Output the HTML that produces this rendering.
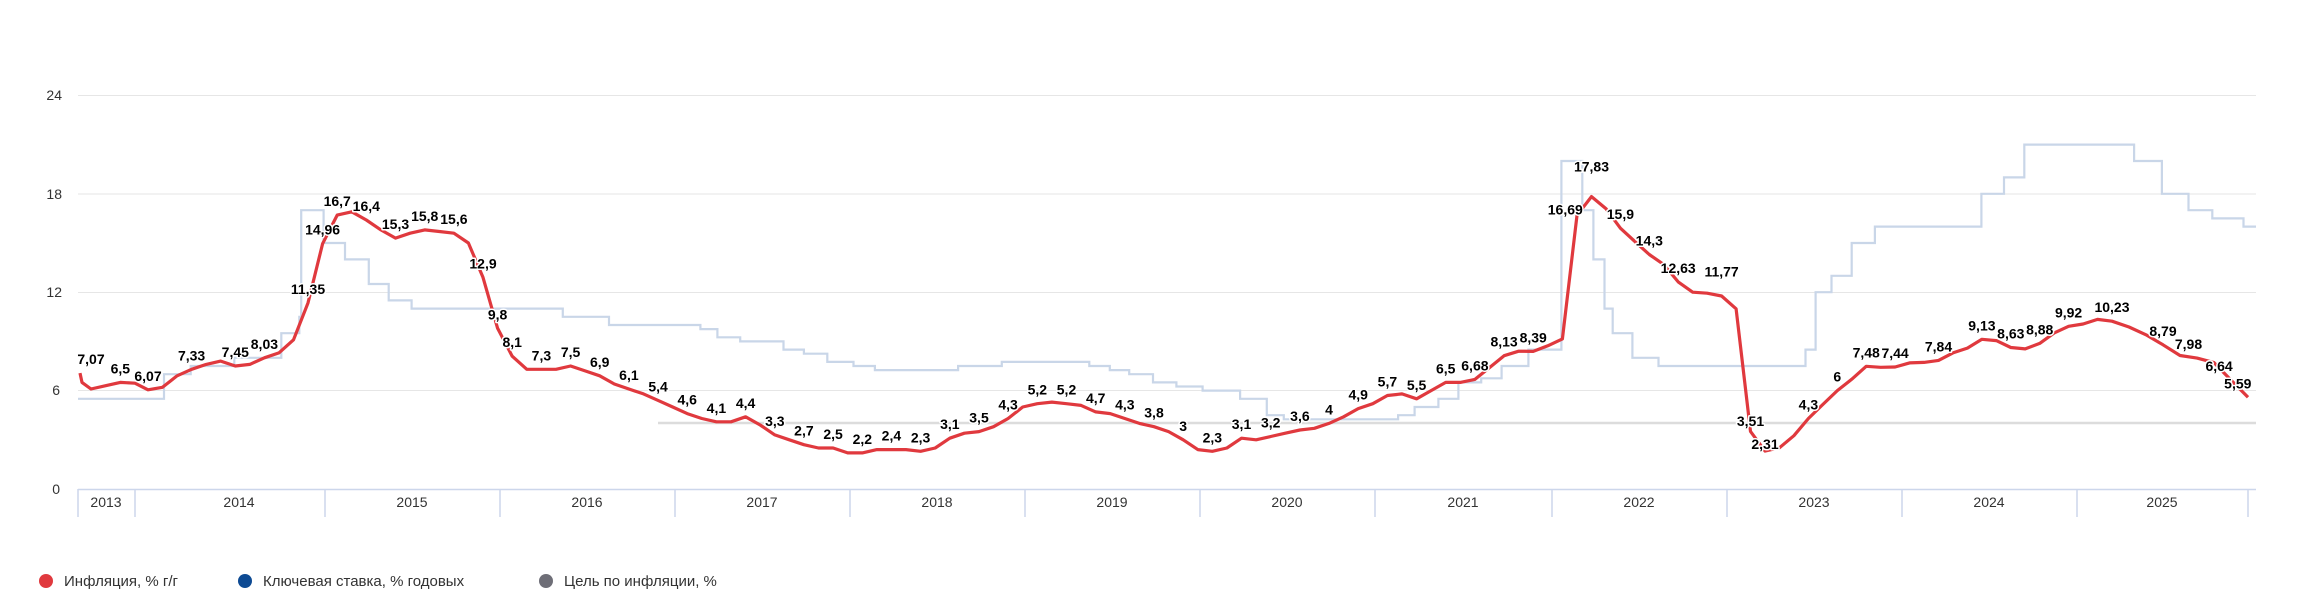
<!DOCTYPE html>
<html><head><meta charset="utf-8">
<style>
html,body{margin:0;padding:0;background:#fff;width:2305px;height:611px;overflow:hidden}
svg{display:block}
.yl{font:14px "Liberation Sans",sans-serif;fill:#333;text-anchor:end}
.xl{font:14px "Liberation Sans",sans-serif;fill:#333;text-anchor:middle}
.dl{font:bold 14px "Liberation Sans",sans-serif;fill:#000;text-anchor:middle;stroke:#fff;stroke-width:3px;paint-order:stroke;stroke-linejoin:round}
.lg{font:15px "Liberation Sans","DejaVu Sans",sans-serif;fill:#333}
</style></head><body>
<svg id="s" width="2305" height="611" xmlns="http://www.w3.org/2000/svg">
<g stroke="#e6e6e6" stroke-width="1">
<line x1="78" x2="2256" y1="95.5" y2="95.5"/>
<line x1="78" x2="2256" y1="194" y2="194"/>
<line x1="78" x2="2256" y1="292.5" y2="292.5"/>
<line x1="78" x2="2256" y1="390.5" y2="390.5"/>
</g>
<text class="yl" x="62" y="100">24</text>
<text class="yl" x="62" y="199">18</text>
<text class="yl" x="62" y="297">12</text>
<text class="yl" x="60" y="395">6</text>
<text class="yl" x="60" y="494">0</text>
<line x1="658" x2="2256" y1="423" y2="423" stroke="#dcdcdc" stroke-width="2.5"/>
<path id="kr" fill="none" stroke="#c9d6e8" stroke-width="2.2"/>
<path id="inf" fill="none" stroke="#e0393e" stroke-width="3.2" stroke-linejoin="round"/>
<line x1="78" x2="2256" y1="489.5" y2="489.5" stroke="#ccd6eb" stroke-width="1.5"/>
<g id="ticks" stroke="#ccd6eb" stroke-width="1.5"></g>
<g id="years">
<text class="xl" x="106" y="507">2013</text>
<text class="xl" x="239" y="507">2014</text>
<text class="xl" x="412" y="507">2015</text>
<text class="xl" x="587" y="507">2016</text>
<text class="xl" x="762" y="507">2017</text>
<text class="xl" x="937" y="507">2018</text>
<text class="xl" x="1112" y="507">2019</text>
<text class="xl" x="1287" y="507">2020</text>
<text class="xl" x="1463" y="507">2021</text>
<text class="xl" x="1639" y="507">2022</text>
<text class="xl" x="1814" y="507">2023</text>
<text class="xl" x="1989" y="507">2024</text>
<text class="xl" x="2162" y="507">2025</text>
</g>
<g id="labels">
<text class="dl" data-m="-9" data-v="7.07">7,07</text>
<text class="dl" data-m="-1" data-v="6.5">6,5</text>
<text class="dl" data-m="1" data-v="6.05">6,07</text>
<text class="dl" data-m="4" data-v="7.3">7,33</text>
<text class="dl" data-m="7" data-v="7.5">7,45</text>
<text class="dl" data-m="9" data-v="8.0">8,03</text>
<text class="dl" data-m="12" data-v="11.35">11,35</text>
<text class="dl" data-m="13" data-v="14.96">14,96</text>
<text class="dl" data-m="14" data-v="16.7">16,7</text>
<text class="dl" data-m="16" data-v="16.4">16,4</text>
<text class="dl" data-m="18" data-v="15.3">15,3</text>
<text class="dl" data-m="20" data-v="15.8">15,8</text>
<text class="dl" data-m="22" data-v="15.6">15,6</text>
<text class="dl" data-m="24" data-v="12.9">12,9</text>
<text class="dl" data-m="25" data-v="9.8">9,8</text>
<text class="dl" data-m="26" data-v="8.1">8,1</text>
<text class="dl" data-m="28" data-v="7.3">7,3</text>
<text class="dl" data-m="30" data-v="7.5">7,5</text>
<text class="dl" data-m="32" data-v="6.9">6,9</text>
<text class="dl" data-m="34" data-v="6.1">6,1</text>
<text class="dl" data-m="36" data-v="5.4">5,4</text>
<text class="dl" data-m="38" data-v="4.6">4,6</text>
<text class="dl" data-m="40" data-v="4.1">4,1</text>
<text class="dl" data-m="42" data-v="4.4">4,4</text>
<text class="dl" data-m="44" data-v="3.3">3,3</text>
<text class="dl" data-m="46" data-v="2.7">2,7</text>
<text class="dl" data-m="48" data-v="2.5">2,5</text>
<text class="dl" data-m="50" data-v="2.2">2,2</text>
<text class="dl" data-m="52" data-v="2.4">2,4</text>
<text class="dl" data-m="54" data-v="2.3">2,3</text>
<text class="dl" data-m="56" data-v="3.1">3,1</text>
<text class="dl" data-m="58" data-v="3.5">3,5</text>
<text class="dl" data-m="60" data-v="4.3">4,3</text>
<text class="dl" data-m="62" data-v="5.2">5,2</text>
<text class="dl" data-m="64" data-v="5.2">5,2</text>
<text class="dl" data-m="66" data-v="4.7">4,7</text>
<text class="dl" data-m="68" data-v="4.3">4,3</text>
<text class="dl" data-m="70" data-v="3.8">3,8</text>
<text class="dl" data-m="72" data-v="3.0">3</text>
<text class="dl" data-m="74" data-v="2.3">2,3</text>
<text class="dl" data-m="76" data-v="3.1">3,1</text>
<text class="dl" data-m="78" data-v="3.2">3,2</text>
<text class="dl" data-m="80" data-v="3.6">3,6</text>
<text class="dl" data-m="82" data-v="4.0">4</text>
<text class="dl" data-m="84" data-v="4.9">4,9</text>
<text class="dl" data-m="86" data-v="5.7">5,7</text>
<text class="dl" data-m="88" data-v="5.5">5,5</text>
<text class="dl" data-m="90" data-v="6.5">6,5</text>
<text class="dl" data-m="92" data-v="6.68">6,68</text>
<text class="dl" data-m="94" data-v="8.13">8,13</text>
<text class="dl" data-m="96" data-v="8.39">8,39</text>
<text class="dl" data-m="98.2" data-v="16.2">16,69</text>
<text class="dl" data-m="100" data-v="18.8">17,83</text>
<text class="dl" data-m="102" data-v="15.9">15,9</text>
<text class="dl" data-m="104" data-v="14.3">14,3</text>
<text class="dl" data-m="106" data-v="12.63">12,63</text>
<text class="dl" data-m="109" data-v="12.4">11,77</text>
<text class="dl" data-m="111" data-v="3.3">3,51</text>
<text class="dl" data-m="112" data-v="1.9">2,31</text>
<text class="dl" data-m="115" data-v="4.3">4,3</text>
<text class="dl" data-m="117" data-v="6.0">6</text>
<text class="dl" data-m="119" data-v="7.48">7,48</text>
<text class="dl" data-m="121" data-v="7.44">7,44</text>
<text class="dl" data-m="124" data-v="7.84">7,84</text>
<text class="dl" data-m="127" data-v="9.13">9,13</text>
<text class="dl" data-m="129" data-v="8.63">8,63</text>
<text class="dl" data-m="131" data-v="8.88">8,88</text>
<text class="dl" data-m="133" data-v="9.92">9,92</text>
<text class="dl" data-m="136" data-v="10.23">10,23</text>
<text class="dl" data-m="139" data-v="8.79">8,79</text>
<text class="dl" data-m="140.5" data-v="7.98">7,98</text>
<text class="dl" data-m="142.3" data-v="6.64">6,64</text>
<text class="dl" data-m="143.4" data-v="5.59">5,59</text>
</g>
<circle cx="46" cy="581" r="7" fill="#e0393e"/>
<text class="lg" x="64" y="586">Инфляция, % г/г</text>
<circle cx="245" cy="581" r="7" fill="#0d4a93"/>
<text class="lg" x="263" y="586">Ключевая ставка, % годовых</text>
<circle cx="546" cy="581" r="7" fill="#6e6e77"/>
<text class="lg" x="564" y="586">Цель по инфляции, %</text>
</svg>
<script>
var A=[[-3,91],[0,135],[1,148],[12,308],[99,1577],[136,2112],[144,2248]];
function X(m){
 if(m<=A[0][0]) return A[0][1]+(m-A[0][0])*14.3;
 for(var i=1;i<A.length;i++){if(m<=A[i][0]){var a=A[i-1],b=A[i];return a[1]+(m-a[0])*(b[1]-a[1])/(b[0]-a[0]);}}
 var a=A[A.length-2],b=A[A.length-1];return b[1]+(m-b[0])*(b[1]-a[1])/(b[0]-a[0]);
}
function Y(v){return 489-v*16.4;}
var inf=[
[6.1,6.3,6.5,6.45],
[6.05,6.2,6.9,7.3,7.6,7.8,7.5,7.6,8.0,8.3,9.1,11.35],
[14.96,16.7,16.9,16.4,15.8,15.3,15.6,15.8,15.7,15.6,15.0,12.9],
[9.8,8.1,7.3,7.3,7.3,7.5,7.2,6.9,6.4,6.1,5.8,5.4],
[5.0,4.6,4.3,4.1,4.1,4.4,3.9,3.3,3.0,2.7,2.5,2.5],
[2.2,2.2,2.4,2.4,2.4,2.3,2.5,3.1,3.4,3.5,3.8,4.3],
[5.0,5.2,5.3,5.2,5.1,4.7,4.6,4.3,4.0,3.8,3.5,3.0],
[2.4,2.3,2.5,3.1,3.0,3.2,3.4,3.6,3.7,4.0,4.4,4.9],
[5.2,5.7,5.8,5.5,6.0,6.5,6.5,6.68,7.4,8.13,8.4,8.39],
[8.73,9.15,16.69,17.83,17.1,15.9,15.1,14.3,13.68,12.63,12.0,11.94],
[11.77,10.99,3.51,2.31,2.51,3.25,4.3,5.15,6.0,6.69,7.48,7.42],
[7.44,7.69,7.72,7.84,8.3,8.59,9.13,9.05,8.63,8.54,8.88,9.52],
[9.92,10.06,10.34,10.23,9.88,9.40,8.79,8.14,7.98,7.71,6.64,5.59]];
var pts=[[80,Y(7.07)],[82,Y(6.5)]];
inf.forEach(function(arr,yi){arr.forEach(function(v,i){var m=yi==0?(-3+i):((yi-1)*12+i+1);pts.push([X(m),Y(v)]);});});
document.getElementById('inf').setAttribute('d','M'+pts.map(function(p){return p[0].toFixed(1)+','+p[1].toFixed(1)}).join('L'));
var kr=[["2013-09-13",5.5],["2014-03-03",7],["2014-04-28",7.5],["2014-07-28",8],["2014-11-05",9.5],["2014-12-12",10.5],["2014-12-16",17],["2015-02-02",15],["2015-03-16",14],["2015-05-05",12.5],["2015-06-16",11.5],["2015-08-03",11],["2016-06-14",10.5],["2016-09-19",10],["2017-03-27",9.75],["2017-05-02",9.25],["2017-06-19",9],["2017-09-18",8.5],["2017-10-30",8.25],["2017-12-18",7.75],["2018-02-12",7.5],["2018-03-26",7.25],["2018-09-17",7.5],["2018-12-17",7.75],["2019-06-17",7.5],["2019-07-29",7.25],["2019-09-09",7],["2019-10-28",6.5],["2019-12-16",6.25],["2020-02-10",6],["2020-04-27",5.5],["2020-06-22",4.5],["2020-07-27",4.25],["2021-03-22",4.5],["2021-04-26",5],["2021-06-15",5.5],["2021-07-26",6.5],["2021-09-13",6.75],["2021-10-25",7.5],["2021-12-20",8.5],["2022-02-28",20],["2022-04-11",17],["2022-05-04",14],["2022-05-27",11],["2022-06-14",9.5],["2022-07-25",8],["2022-09-19",7.5],["2023-07-24",8.5],["2023-08-15",12],["2023-09-18",13],["2023-10-30",15],["2023-12-18",16],["2024-07-29",18],["2024-09-16",19],["2024-10-28",21],["2025-06-09",20],["2025-07-28",18],["2025-09-15",17],["2025-10-27",16.5],["2025-12-22",16]];
function DM(s){var p=s.split('-');return (p[0]-2014)*12+(p[1]-1)+p[2]/30;}
var d='M78,'+Y(5.5);
for(var i=1;i<kr.length;i++){var x=X(DM(kr[i][0]));d+='H'+x.toFixed(1)+'V'+Y(kr[i][1]).toFixed(1);}
d+='H2256';
document.getElementById('kr').setAttribute('d',d);
var tk=[78,135,325,500,675,850,1025,1200,1375,1552,1727,1902,2077,2248],g=document.getElementById('ticks');
tk.forEach(function(t){var l=document.createElementNS('http://www.w3.org/2000/svg','line');l.setAttribute('x1',t);l.setAttribute('x2',t);l.setAttribute('y1',489);l.setAttribute('y2',517);g.appendChild(l);});
Array.prototype.forEach.call(document.querySelectorAll('#labels text'),function(t){
 var m=+t.getAttribute('data-m'),v=+t.getAttribute('data-v');
 var x=m==-9?91:X(m);
 t.setAttribute('x',x.toFixed(1));t.setAttribute('y',(Y(v)-9).toFixed(1));
});
</script>
</body></html>
